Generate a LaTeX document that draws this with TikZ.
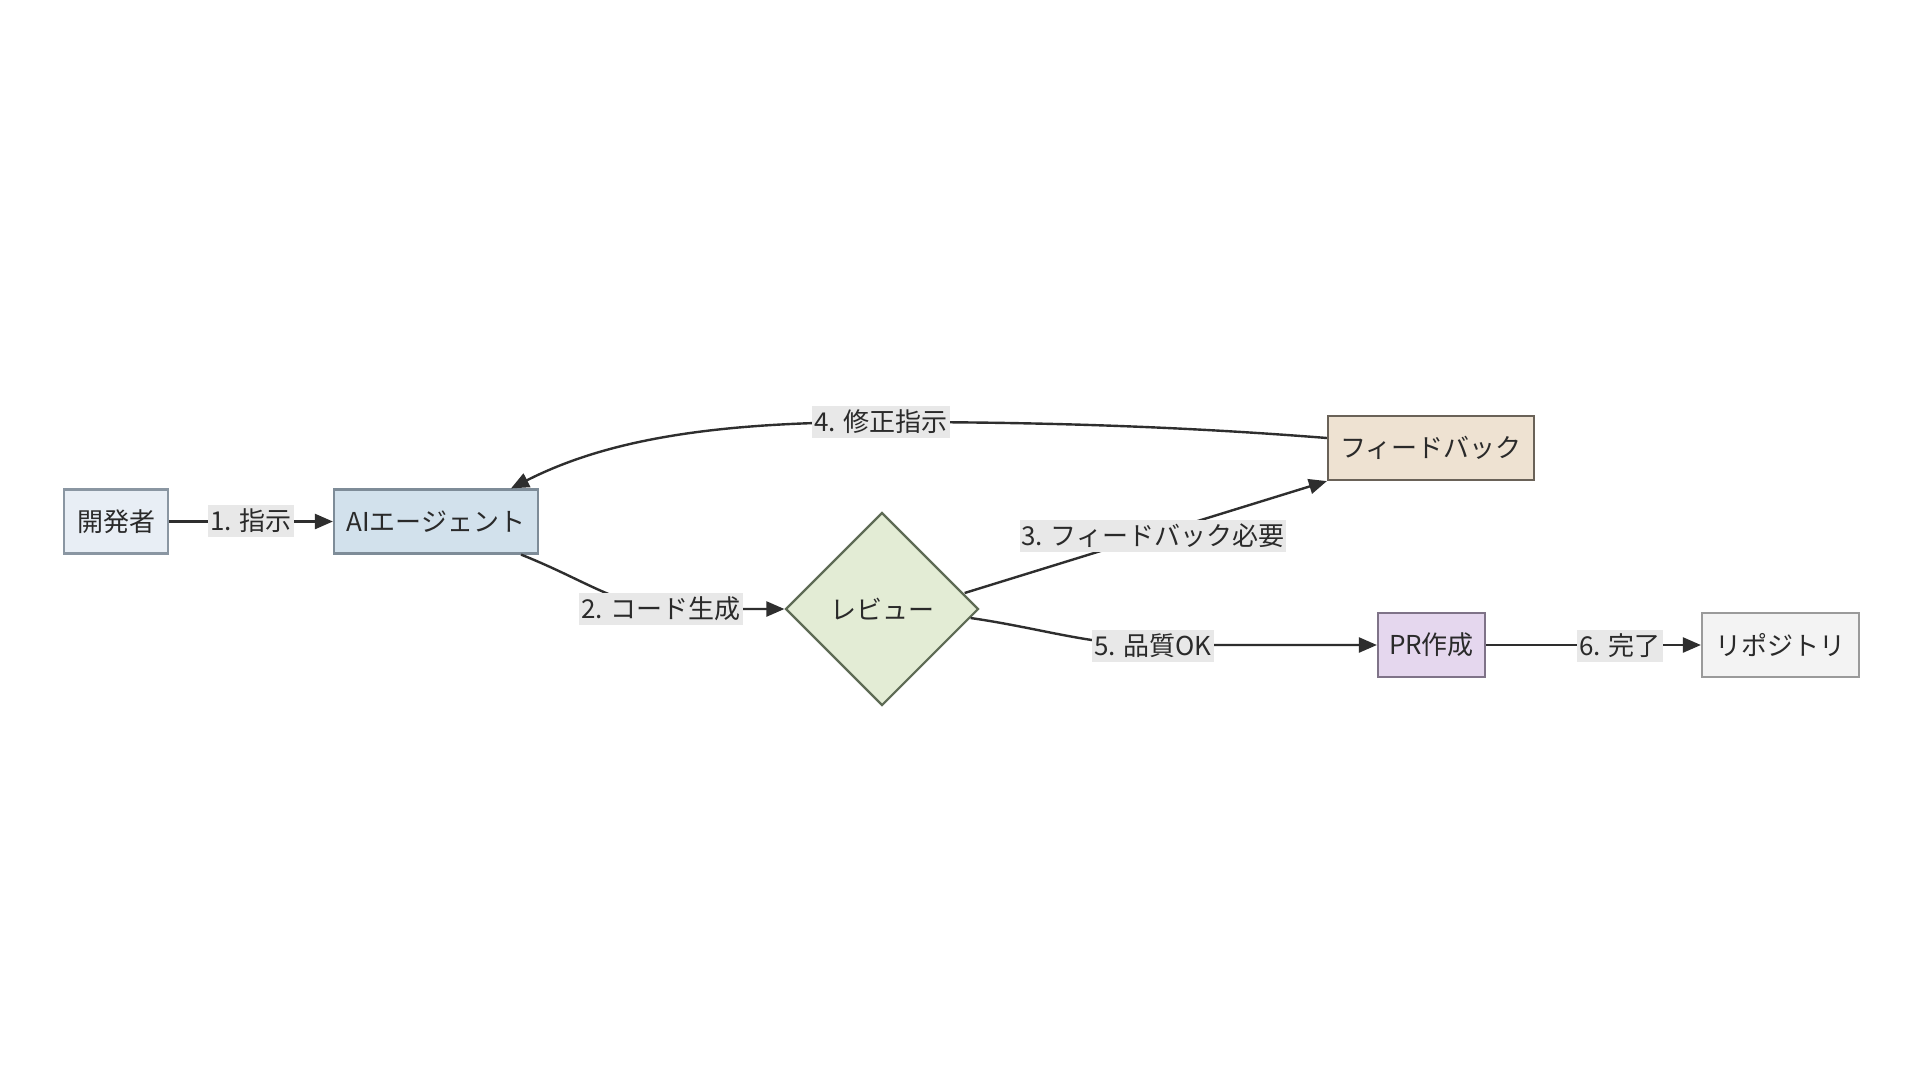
\documentclass[tikz,border=0pt]{standalone}
\usepackage{fontspec}
\setmainfont{Noto Sans CJK JP}
\usetikzlibrary{shapes.geometric,arrows.meta}
\definecolor{txt}{HTML}{2A2A2A}
\definecolor{edge}{HTML}{2E2E2E}
\definecolor{lblbg}{HTML}{E8E8E8}
\definecolor{devfill}{HTML}{E8EEF5}
\definecolor{devdraw}{HTML}{8A96A2}
\definecolor{aifill}{HTML}{D2E1EC}
\definecolor{aidraw}{HTML}{7E8C98}
\definecolor{revfill}{HTML}{E3ECD5}
\definecolor{revdraw}{HTML}{5E6B55}
\definecolor{fbfill}{HTML}{EEE2D2}
\definecolor{fbdraw}{HTML}{6A6258}
\definecolor{prfill}{HTML}{E5D7EE}
\definecolor{prdraw}{HTML}{7F7388}
\definecolor{repofill}{HTML}{F3F3F3}
\definecolor{repodraw}{HTML}{9A9A9A}
\tikzset{
  box/.style={rectangle, draw, line width=2.2pt, minimum height=64pt, inner sep=0pt,
    text=txt, font=\fontsize{26pt}{30pt}\selectfont},
  lbl/.style={fill=lblbg, text=txt, inner sep=2pt, minimum height=32pt,
    font=\fontsize{26pt}{30pt}\selectfont},
  conn/.style={draw=edge, line width=2.4pt, -{Triangle[length=18pt,width=15pt]}},
}
\begin{document}
\begin{tikzpicture}[x=1pt,y=-1pt]
\useasboundingbox[fill=white] (0,0) rectangle (1920,1080);
% nodes
\node[box, fill=devfill, draw=devdraw, minimum width=104pt] (dev) at (116,521.5) {開発者};
\node[box, fill=aifill, draw=aidraw, minimum width=204pt] (ai) at (436,521.5) {AIエージェント};
\node[diamond, draw=revdraw, fill=revfill, line width=2.2pt, minimum width=193pt, minimum height=193pt,
  inner sep=0pt, text=txt, font=\fontsize{26pt}{30pt}\selectfont] (rev) at (882,609) {レビュー};
\node[box, fill=fbfill, draw=fbdraw, minimum width=206pt] (fb) at (1431,448) {フィードバック};
\node[box, fill=prfill, draw=prdraw, minimum width=107pt] (pr) at (1431.5,645) {PR作成};
\node[box, fill=repofill, draw=repodraw, minimum width=157pt] (repo) at (1780.5,645) {リポジトリ};
% edges
\draw[conn] (dev.east) -- (ai.west);
\draw[conn] ([xshift=-18pt]ai.south east) .. controls (590,582) and (620,609) .. (680,609) -- (rev.west);
\draw[conn] ([xshift=-15pt,yshift=16pt]rev.east) -- (fb.south west);
\draw[conn] ([yshift=10pt]fb.west) .. controls (1150,424) and (1000,422) .. (881,422)
  .. controls (720,422) and (610,438) .. ([xshift=75pt]ai.north);
\draw[conn] ([xshift=-9pt,yshift=-9pt]rev.east) .. controls (1040,628) and (1090,645) .. (1153,645) -- (pr.west);
\draw[conn] (pr.east) -- (repo.west);
% labels
\node[lbl] (l1) at (251,521) {1. 指示};
\node[lbl] (l2) at (661,609) {2. コード生成};
\node[lbl] (l3) at (1153,536) {3. フィードバック必要};
\node[lbl] (l4) at (881,422) {4. 修正指示};
\node[lbl] (l5) at (1153,646) {5. 品質OK};
\node[lbl] (l6) at (1620,646) {6. 完了};
\end{tikzpicture}
\end{document}
